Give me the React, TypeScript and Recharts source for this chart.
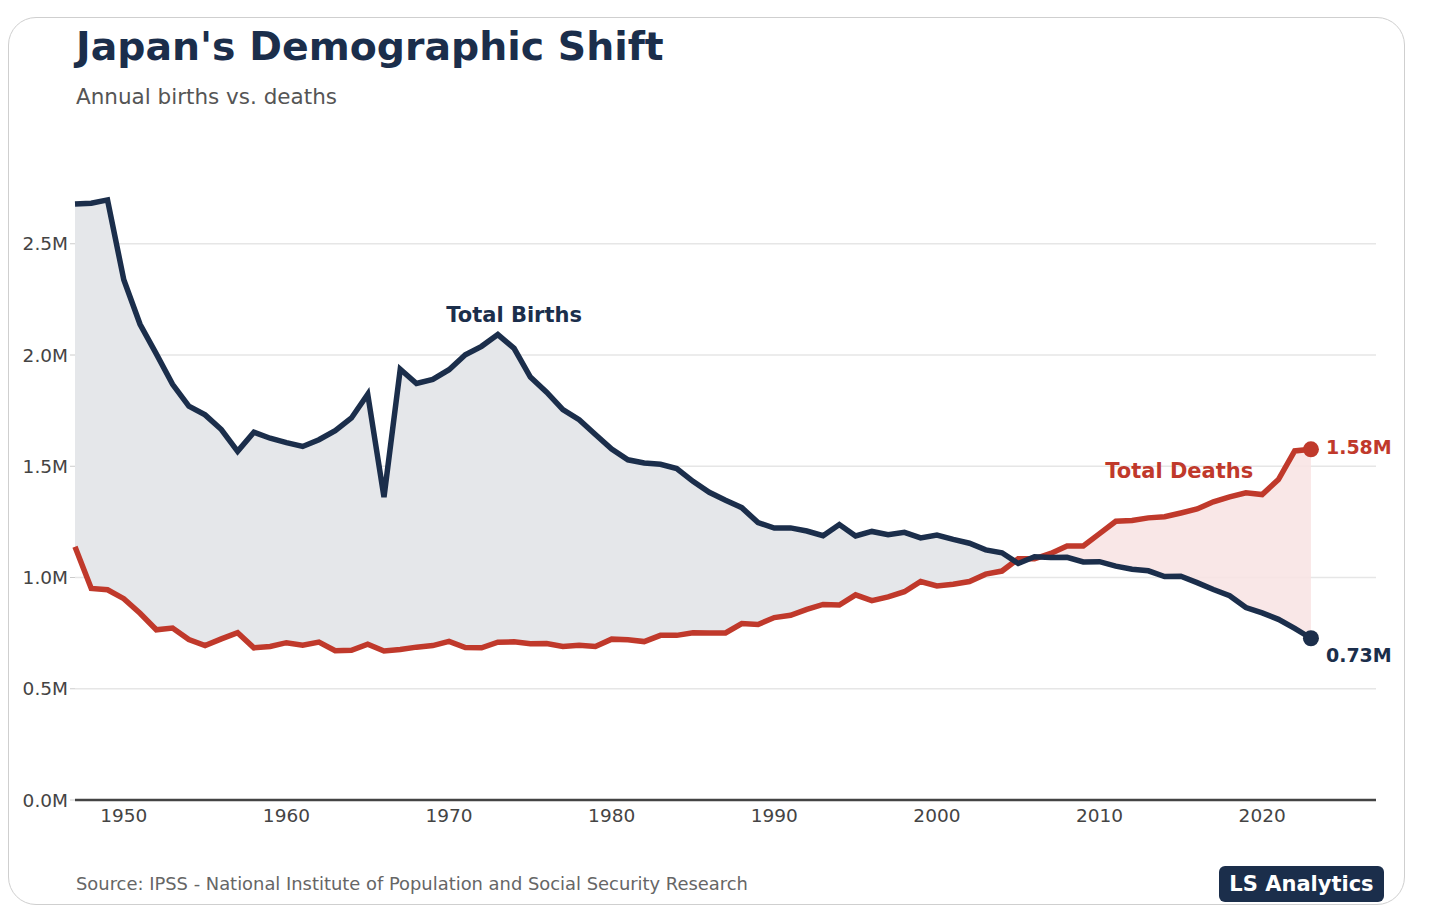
import React from 'react';
import { ComposedChart, Area, Line, XAxis, YAxis, CartesianGrid, ReferenceDot } from 'recharts';

// thousands per year, 1947-2023
const years = Array.from({ length: 77 }, (_, i) => 1947 + i);
const births = [
  2679, 2682, 2697, 2338, 2138, 2005, 1868, 1770, 1731, 1665,
  1567, 1653, 1626, 1606, 1589, 1619, 1660, 1717, 1824, 1361,
  1936, 1872, 1890, 1934, 2001, 2039, 2092, 2030, 1901, 1833,
  1755, 1709, 1643, 1577, 1529, 1515, 1509, 1490, 1432, 1383,
  1347, 1314, 1247, 1222, 1223, 1209, 1188, 1238, 1187, 1207,
  1192, 1203, 1178, 1191, 1171, 1154, 1124, 1111, 1063, 1093,
  1090, 1091, 1070, 1071, 1051, 1037, 1030, 1004, 1006, 977,
  946, 918, 865, 841, 812, 771, 727,
];
const deaths = [
  1138, 951, 945, 905, 839, 765, 773, 721, 694, 724,
  752, 684, 690, 707, 696, 710, 671, 673, 700, 670,
  676, 687, 694, 713, 685, 684, 709, 711, 702, 703,
  690, 696, 690, 723, 720, 712, 740, 740, 752, 751,
  751, 793, 789, 820, 830, 857, 879, 876, 922, 896,
  913, 936, 982, 962, 970, 982, 1015, 1029, 1084, 1084,
  1108, 1142, 1142, 1197, 1253, 1256, 1268, 1273, 1290, 1308,
  1340, 1362, 1381, 1373, 1440, 1569, 1576,
];
const xTicks = [1950, 1960, 1970, 1980, 1990, 2000, 2010, 2020];
const yTicks = [0, 500000, 1000000, 1500000, 2000000, 2500000];

const NAVY = '#1b2e4b';
const RED = '#c0392b';
const FONT = '"DejaVu Sans", sans-serif';

const data = years.map((year, i) => ({
  year,
  births: births[i] * 1000,
  deaths: deaths[i] * 1000,
}));
const last = data.length - 1;

const fmtM = (v: number) => `${(v / 1e6).toFixed(1)}M`;

const endDot = (color: string, labelFor: 'births' | 'deaths') => (props: any) => {
  const { cx, cy, index } = props;
  if (index !== last) return <g key={`d-${index}`} />;
  const v = data[last][labelFor];
  const dy = labelFor === 'births' ? 24 : 5;
  return (
    <g key={`d-${index}`}>
      <circle cx={cx} cy={cy} r={8} fill={color} />
      <text x={cx + 15} y={cy + dy} fill={color} fontFamily={FONT} fontWeight="bold" fontSize={19}>
        {`${(v / 1e6).toFixed(2)}M`}
      </text>
    </g>
  );
};

export default function App() {
  return (
    <div style={{ position: 'absolute', left: 0, top: 0, width: 1430, height: 916, background: '#fff', fontFamily: FONT }}>
      <div
        style={{
          position: 'absolute', left: 8, top: 17, width: 1397, height: 888,
          border: '1.5px solid #cfcfcf', borderRadius: 28, boxSizing: 'border-box',
        }}
      />
      <div style={{ position: 'absolute', left: 76, top: 23, fontSize: 39.4, fontWeight: 'bold', color: NAVY }}>
        Japan's Demographic Shift
      </div>
      <div style={{ position: 'absolute', left: 76, top: 84, fontSize: 21.5, color: '#555' }}>
        Annual births vs. deaths
      </div>
      <div style={{ position: 'absolute', left: 0, top: 0 }}>
        <ComposedChart width={1430} height={916} data={data} margin={{ top: 177, right: 54, bottom: 86, left: 0 }}>
          <CartesianGrid vertical={false} horizontalValues={yTicks} syncWithTicks stroke="#e6e6e6" strokeWidth={1.5} />
          <XAxis
            dataKey="year"
            type="number"
            domain={[1947, 2027]}
            ticks={xTicks}
            tickLine={false}
            tickSize={0}
            tickMargin={9}
            height={30}
            axisLine={{ stroke: '#444', strokeWidth: 2.5 }}
            tick={{ fill: '#444', fontSize: 18.5, fontFamily: FONT }}
          />
          <YAxis
            type="number"
            domain={[0, 2800000]}
            ticks={yTicks}
            tickFormatter={fmtM}
            width={75}
            axisLine={false}
            tickLine={{ stroke: '#ccc' }}
            tickSize={5}
            tickMargin={2}
            tick={{ fill: '#444', fontSize: 18.5, fontFamily: FONT }}
          />
          <Area
            type="linear"
            dataKey={(d: any) => [d.deaths, Math.max(d.births, d.deaths)]}
            fill="#e5e7ea"
            fillOpacity={1}
            stroke="none"
            isAnimationActive={false}
            activeDot={false}
          />
          <Area
            type="linear"
            dataKey={(d: any) => [d.births, Math.max(d.births, d.deaths)]}
            fill="#f8e3e3"
            fillOpacity={0.85}
            stroke="none"
            isAnimationActive={false}
            activeDot={false}
          />
          <Line
            type="linear"
            dataKey="deaths"
            stroke={RED}
            strokeWidth={5.5}
            dot={endDot(RED, 'deaths')}
            isAnimationActive={false}
          />
          <Line
            type="linear"
            dataKey="births"
            stroke={NAVY}
            strokeWidth={5.5}
            dot={endDot(NAVY, 'births')}
            isAnimationActive={false}
          />
          <ReferenceDot
            x={1974}
            y={2180000}
            r={0}
            fill="none"
            stroke="none"
            label={{ value: 'Total Births', position: 'center', fill: NAVY, fontSize: 21, fontWeight: 'bold', fontFamily: FONT }}
          />
          <ReferenceDot
            x={2014.9}
            y={1480000}
            r={0}
            fill="none"
            stroke="none"
            label={{ value: 'Total Deaths', position: 'center', fill: RED, fontSize: 21, fontWeight: 'bold', fontFamily: FONT }}
          />
        </ComposedChart>
      </div>
      <div style={{ position: 'absolute', left: 76, top: 873, fontSize: 17.9, color: '#666' }}>
        Source: IPSS - National Institute of Population and Social Security Research
      </div>
      <div
        style={{
          position: 'absolute', left: 1219, top: 866, width: 165, height: 36, background: NAVY,
          borderRadius: 6, color: '#fff', fontWeight: 'bold', fontSize: 21,
          display: 'flex', alignItems: 'center', justifyContent: 'center',
        }}
      >
        LS Analytics
      </div>
    </div>
  );
}
